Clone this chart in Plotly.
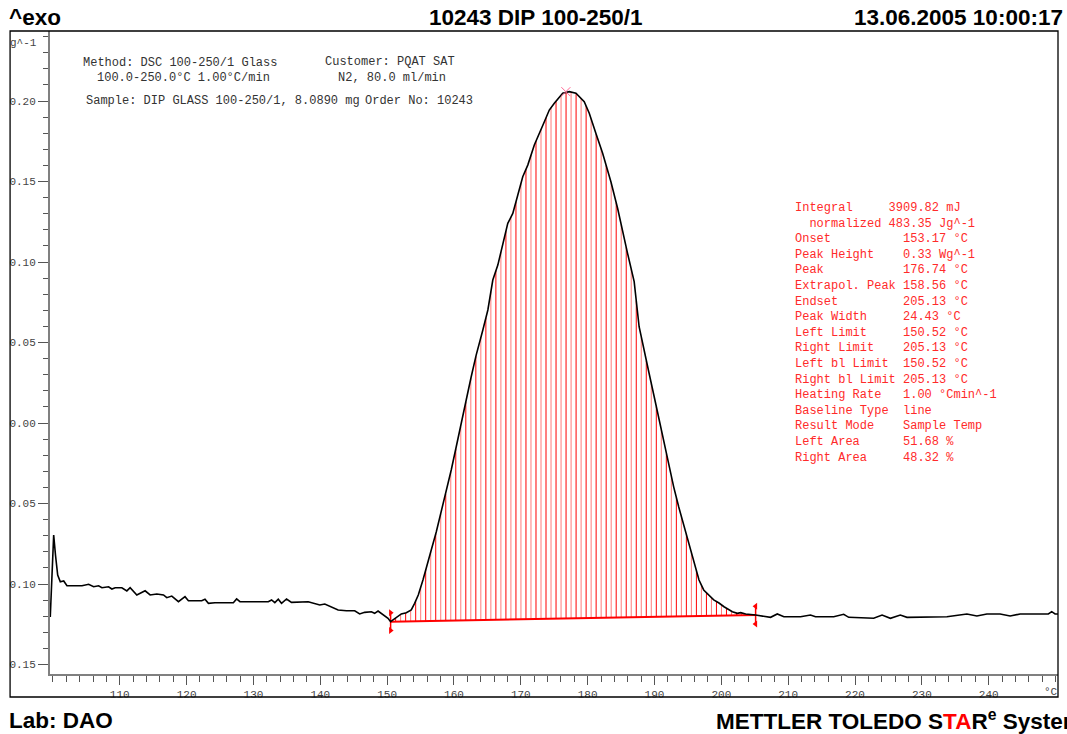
import numpy as np
import plotly.graph_objects as go

# ---------------- data ----------------
temp_c = [99.60, 99.78, 100.11, 100.38, 100.71, 101.10, 101.61, 102.10, 104.34, 105.34,
          106.09, 106.83, 107.33, 108.32, 108.82, 109.31, 110.31, 111.06, 111.55, 112.55,
          113.04, 113.79, 114.54, 115.54, 116.54, 117.03, 117.78, 118.78, 119.76, 120.27,
          122.26, 122.75, 123.26, 124.24, 126.99, 127.48, 127.98, 132.22, 132.71, 133.20,
          133.71, 134.20, 134.95, 135.69, 138.19, 139.92, 140.67, 142.67, 143.91, 145.15,
          145.89, 146.64, 147.64, 148.13, 148.64, 149.39, 150.13, 150.52, 151.12, 151.63,
          152.12, 152.87, 153.61, 154.11, 154.66, 155.36, 155.85, 156.60, 157.35, 158.09,
          158.84, 159.59, 160.33, 161.08, 161.83, 162.57, 163.32, 164.32, 165.07, 165.81,
          166.56, 168.05, 168.80, 169.55, 170.29, 171.04, 172.02, 173.52, 174.26, 175.01,
          176.27, 177.25, 178.25, 179.49, 180.24, 181.24, 182.24, 183.48, 184.48, 185.97,
          186.96, 187.70, 188.40, 189.15, 189.90, 190.64, 191.39, 192.14, 192.88, 193.63,
          194.53, 195.42, 196.66, 197.36, 198.16, 198.86, 199.65, 200.40, 201.65, 202.40,
          202.89, 203.64, 205.13, 206.37, 207.37, 208.37, 209.36, 211.85, 213.34, 214.09,
          216.82, 218.31, 219.06, 222.79, 224.05, 225.29, 226.78, 227.78, 233.75, 236.74,
          238.23, 239.73, 241.71, 243.21, 244.70, 248.93, 249.43, 249.93, 250.37]
heat_flow = [-0.1205, -0.1037, -0.0696, -0.0820, -0.0944, -0.0986, -0.0981, -0.1011, -0.1011, -0.1002,
             -0.1017, -0.1011, -0.1023, -0.1017, -0.1031, -0.1023, -0.1023, -0.1043, -0.1023, -0.1068,
             -0.1058, -0.1042, -0.1068, -0.1062, -0.1068, -0.1085, -0.1075, -0.1110, -0.1079, -0.1104,
             -0.1104, -0.1095, -0.1120, -0.1116, -0.1116, -0.1093, -0.1110, -0.1110, -0.1099, -0.1116,
             -0.1095, -0.1120, -0.1093, -0.1114, -0.1110, -0.1130, -0.1124, -0.1161, -0.1166, -0.1166,
             -0.1186, -0.1176, -0.1172, -0.1182, -0.1168, -0.1193, -0.1213, -0.1234, -0.1217, -0.1199,
             -0.1186, -0.1178, -0.1161, -0.1120, -0.1068, -0.0975, -0.0894, -0.0789, -0.0677, -0.0553,
             -0.0429, -0.0292, -0.0149, -0.0012, 0.0143, 0.0286, 0.0422, 0.0578, 0.0702, 0.0888,
             0.0981, 0.1240, 0.1302, 0.1416, 0.1530, 0.1602, 0.1727, 0.1871, 0.1944, 0.1986,
             0.2048, 0.2058, 0.2048, 0.1996, 0.1924, 0.1799, 0.1675, 0.1499, 0.1334, 0.1054,
             0.0878, 0.0598, 0.0453, 0.0317, 0.0174, 0.0031, -0.0118, -0.0261, -0.0398, -0.0522,
             -0.0652, -0.0789, -0.0975, -0.1037, -0.1068, -0.1099, -0.1118, -0.1141, -0.1172, -0.1182,
             -0.1178, -0.1186, -0.1193, -0.1199, -0.1207, -0.1186, -0.1203, -0.1203, -0.1193, -0.1203,
             -0.1203, -0.1188, -0.1207, -0.1213, -0.1193, -0.1213, -0.1193, -0.1207, -0.1203, -0.1186,
             -0.1199, -0.1186, -0.1186, -0.1199, -0.1186, -0.1186, -0.1172, -0.1186, -0.1186]

left_limit = 150.52
right_limit = 205.13
baseline_left = -0.1234
baseline_right = -0.1193
peak_temp = 176.74
peak_value = 0.2058
hatch_step = 0.75

x_ticks = [110, 120, 130, 140, 150, 160, 170, 180, 190, 200, 210, 220, 230, 240]
y_ticks = [-0.15, -0.10, -0.05, 0.00, 0.05, 0.10, 0.15, 0.20]
y_tick_text = ["0.15", "0.10", "0.05", "0.00", "0.05", "0.10", "0.15", "0.20"]

result_lines = [
    "Integral     3909.82 mJ",
    "  normalized 483.35 Jg^-1",
    "Onset          153.17 °C",
    "Peak Height    0.33 Wg^-1",
    "Peak           176.74 °C",
    "Extrapol. Peak 158.56 °C",
    "Endset         205.13 °C",
    "Peak Width     24.43 °C",
    "Left Limit     150.52 °C",
    "Right Limit    205.13 °C",
    "Left bl Limit  150.52 °C",
    "Right bl Limit 205.13 °C",
    "Heating Rate   1.00 °Cmin^-1",
    "Baseline Type  line",
    "Result Mode    Sample Temp",
    "Left Area      51.68 %",
    "Right Area     48.32 %",
]

# ---------------- figure ----------------
W, H = 1067, 734
L, R, T, B = 48, 1058, 31, 674


def px(x):
    return (x - L) / (R - L)


def py(y):
    return (B - y) / (B - T)


fig = go.Figure()

# hatch lines between baseline and curve
hx = np.arange(left_limit, right_limit, hatch_step)[1:]
hb = np.interp(hx, [left_limit, right_limit], [baseline_left, baseline_right])
ht = np.interp(hx, temp_c, heat_flow)
for k, col in enumerate(["#ff0000", "#ff7a7a"]):
    xs, ys = [], []
    for i in range(k, len(hx), 2):
        xs += [hx[i], hx[i], None]
        ys += [hb[i], ht[i], None]
    fig.add_trace(go.Scatter(x=xs, y=ys, mode="lines",
                             line=dict(color=col, width=1), hoverinfo="skip"))

# baseline
fig.add_trace(go.Scatter(x=[left_limit, right_limit], y=[baseline_left, baseline_right],
                         mode="lines", line=dict(color="#ff0000", width=2)))

# limit markers
off = 0.0055
for lim, base, sym in [(left_limit, baseline_left, "triangle-right"),
                       (right_limit, baseline_right, "triangle-left")]:
    fig.add_trace(go.Scatter(x=[lim, lim], y=[base + off, base - off], mode="lines+markers",
                             line=dict(color="#ff0000", width=1.5),
                             marker=dict(symbol=sym, size=6, color="#ff0000")))

# curve
fig.add_trace(go.Scatter(x=temp_c, y=heat_flow, mode="lines",
                         line=dict(color="black", width=1.6)))

# peak marker
fig.add_trace(go.Scatter(x=[peak_temp], y=[peak_value], mode="markers",
                         marker=dict(symbol="x-thin-open", size=9,
                                     line=dict(color="#ff3030", width=1))))

mono = "Liberation Mono, Courier New, monospace"
sans = "Liberation Sans, Arial, sans-serif"
tickfont = dict(family=mono, size=11, color="#444444")

fig.update_xaxes(range=[99.56, 250.37], tickmode="array", tickvals=x_ticks,
                 ticktext=[str(v) for v in x_ticks],
                 ticks="outside", ticklen=9, tickwidth=1, tickcolor="#555555",
                 ticklabelstandoff=0,
                 minor=dict(tick0=100, dtick=2, ticks="outside", ticklen=6,
                            tickcolor="#555555", tickwidth=1, showgrid=False),
                 showline=True, linecolor="#808080", linewidth=2,
                 showgrid=False, zeroline=False, tickfont=tickfont)
fig.update_yaxes(range=[-0.1559, 0.2435], tickmode="array", tickvals=y_ticks,
                 ticktext=y_tick_text,
                 ticks="outside", ticklen=10, tickwidth=1, tickcolor="#555555",
                 minor=dict(tick0=0, dtick=0.01, ticks="outside", ticklen=5,
                            tickcolor="#555555", tickwidth=1, showgrid=False),
                 showline=True, linecolor="#808080", linewidth=2,
                 showgrid=False, zeroline=False, tickfont=tickfont)

ann = []
PAD = 3  # annotation inner padding compensation


def text(x, y, s, size=12, family=mono, color="#333333", xanchor="left", yanchor="middle"):
    if xanchor == "left":
        x -= PAD
    elif xanchor == "right":
        x += PAD
    ann.append(dict(x=px(x), y=py(y), xref="paper", yref="paper", text=s, showarrow=False,
                    xanchor=xanchor, yanchor=yanchor, align="left",
                    font=dict(family=family, size=size, color=color)))


nb = lambda s: s.replace(" ", "\u00a0")

# header/footer
text(8, 17, "<b>^exo</b>", size=22.5, family=sans, color="black")
text(535, 17, "<b>10243 DIP 100-250/1</b>", size=22.5, family=sans, color="black", xanchor="center")
text(1062, 17, "<b>13.06.2005 10:00:17</b>", size=22.5, family=sans, color="black", xanchor="right")
text(8, 720, "<b>Lab: DAO</b>", size=22.5, family=sans, color="black")
text(716, 720, "<b>METTLER TOLEDO S<span style='color:#ff0000'>TA</span>R<sup>e</sup> System</b>",
     size=22.5, family=sans, color="black")

# method info
text(82, 63, nb("Method: DSC 100-250/1 Glass"))
text(96, 78, nb("100.0-250.0°C 1.00°C/min"))
text(85, 101, nb("Sample: DIP GLASS 100-250/1, 8.0890 mg"))
text(325, 62, nb("Customer: PQAT SAT"))
text(338, 78, nb("N2, 80.0 ml/min"))
text(365, 101, nb("Order No: 10243"))

# axis unit labels
text(9, 43, "g^-1", size=11, color="#444444")
text(1057, 692, "°C", size=11, color="#444444", xanchor="right")

# results block
ann.append(dict(x=px(795 - PAD), y=py(199), xref="paper", yref="paper",
                text="<br>".join(nb(s) for s in result_lines), showarrow=False,
                xanchor="left", yanchor="top", align="left",
                font=dict(family=mono, size=12, color="#ff2a2a")))

shapes = [
    # white strip to clip tick labels below the frame
    dict(type="rect", xref="paper", yref="paper", x0=px(9), x1=px(1057), y0=py(697.5), y1=py(708),
         fillcolor="white", line=dict(width=0), layer="above"),
    # outer frame
    dict(type="rect", xref="paper", yref="paper", x0=px(8), x1=px(1058), y0=py(697), y1=py(31),
         line=dict(color="black", width=1.3), layer="above"),
]

fig.update_layout(width=W, height=H, margin=dict(l=L, r=W - R, t=T, b=H - B),
                  plot_bgcolor="white", paper_bgcolor="white", showlegend=False,
                  annotations=ann, shapes=shapes)

fig.write_html("out.html")
